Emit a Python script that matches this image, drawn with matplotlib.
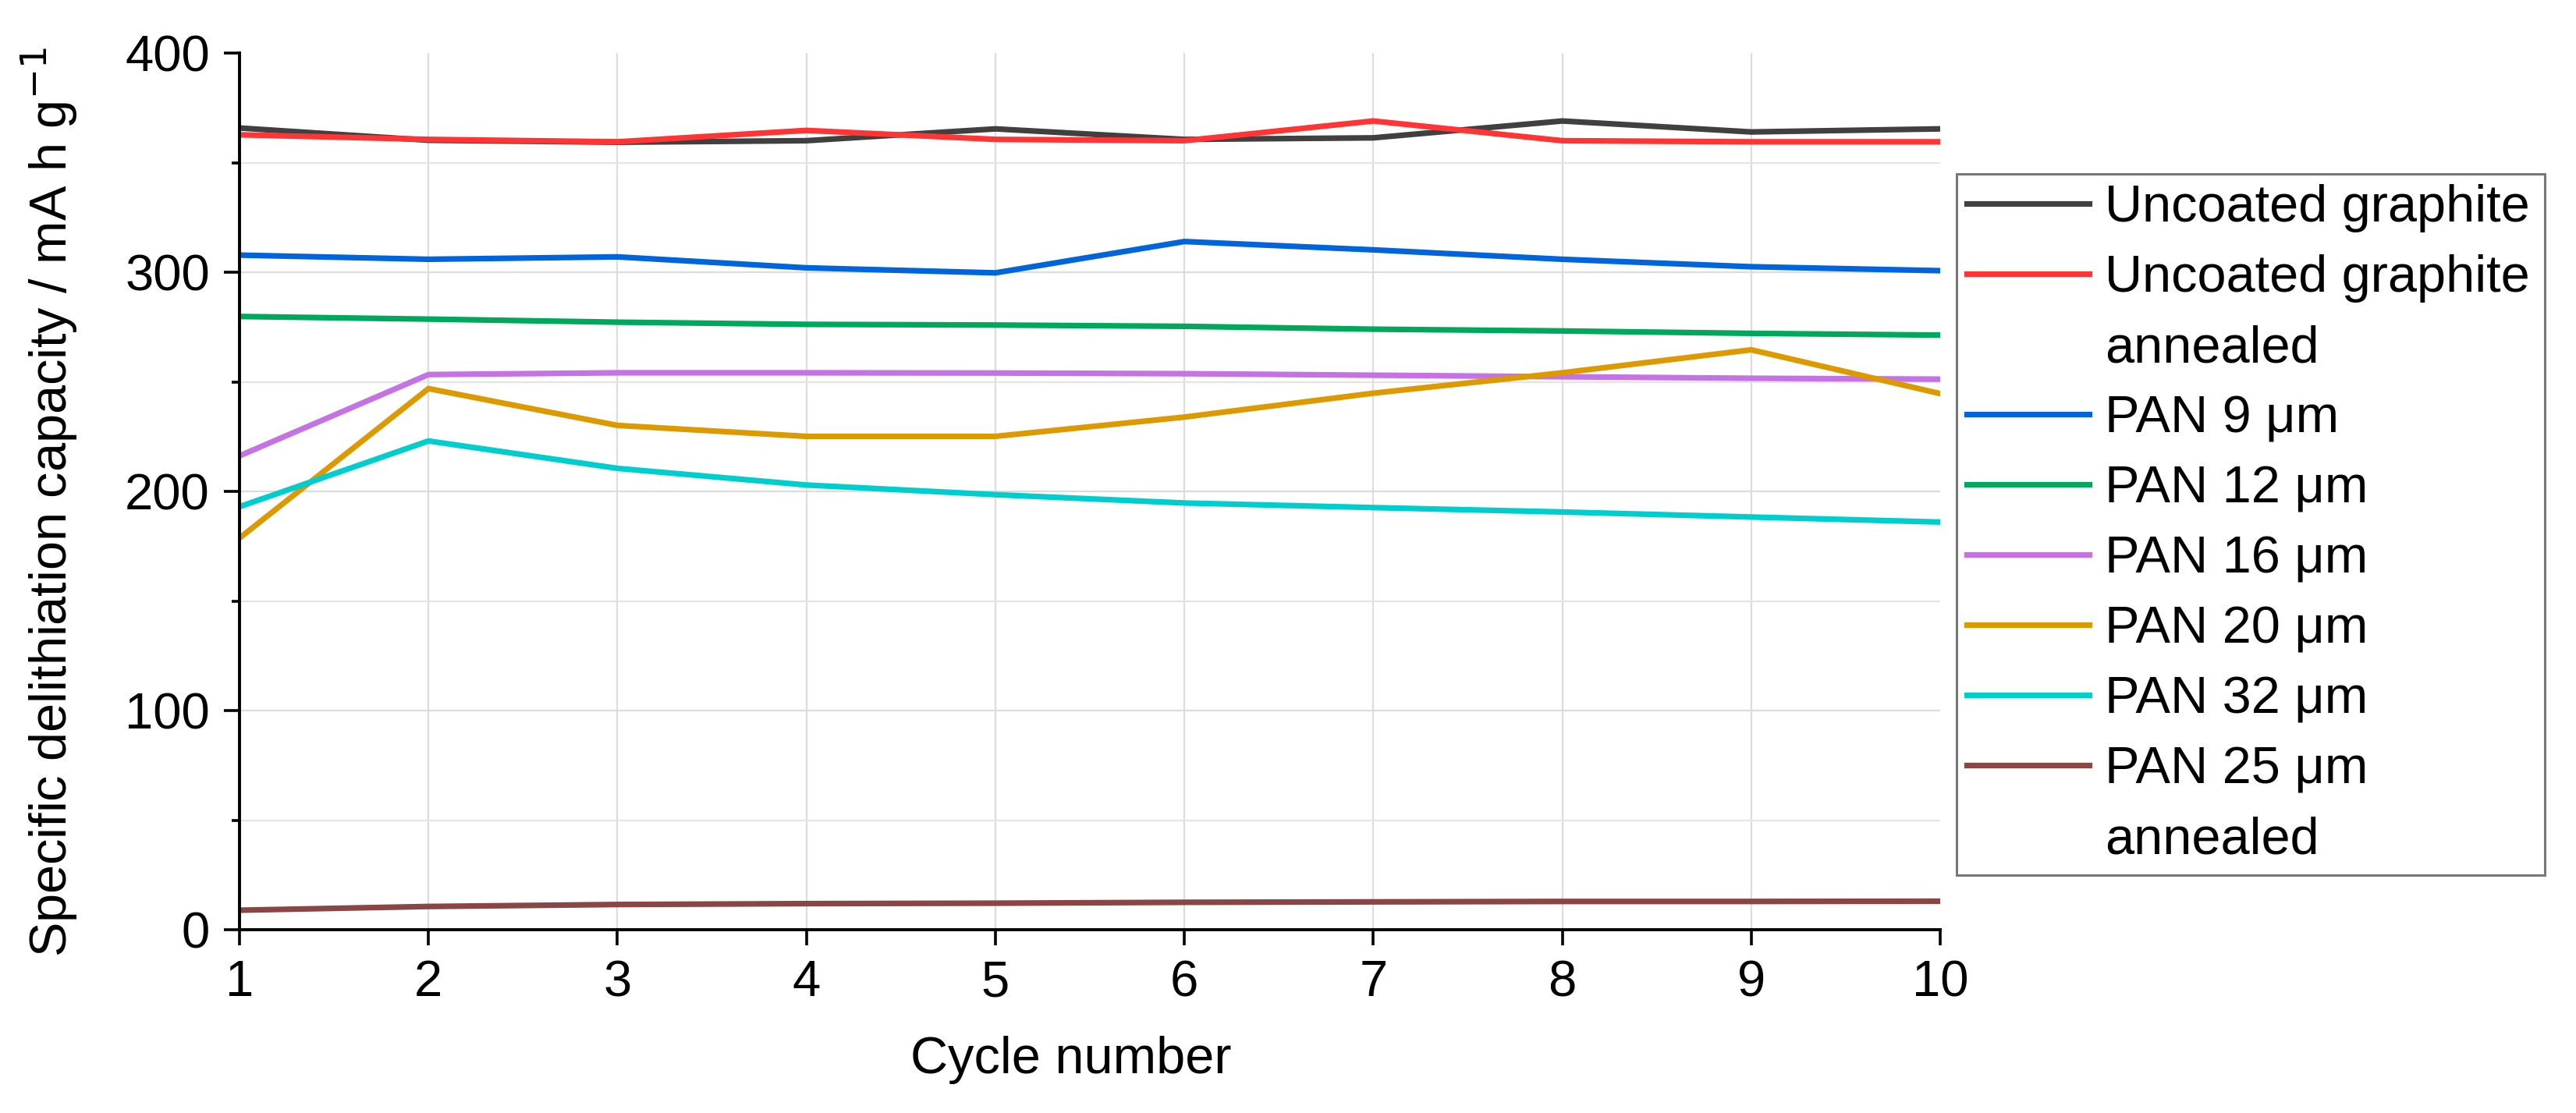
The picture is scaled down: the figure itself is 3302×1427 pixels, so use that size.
import matplotlib
matplotlib.use("Agg")
import matplotlib.pyplot as plt
from matplotlib.lines import Line2D
from matplotlib.ticker import MultipleLocator

plt.rcParams['font.family'] = ['Liberation Sans', 'DejaVu Sans']

cycles = [1, 2, 3, 4, 5, 6, 7, 8, 9, 10]
uncoated = [365.8, 360.2, 359.3, 360.0, 365.4, 360.6, 361.3, 369.0, 364.0, 365.4]
uncoated_annealed = [362.7, 360.6, 359.5, 364.7, 360.6, 360.0, 369.0, 360.0, 359.5, 359.5]
pan9 = [307.8, 305.9, 307.0, 302.0, 299.7, 314.0, 310.2, 305.9, 302.5, 300.7]
pan12 = [279.8, 278.6, 277.2, 276.2, 275.9, 275.3, 274.0, 273.2, 272.1, 271.3]
pan16 = [216.2, 253.3, 254.1, 254.1, 254.0, 253.7, 253.0, 252.3, 251.6, 251.2]
pan20 = [178.7, 246.9, 230.1, 225.1, 225.1, 233.9, 244.8, 254.1, 264.6, 244.6]
pan32 = [193.0, 223.0, 210.5, 202.9, 198.5, 194.7, 192.6, 190.6, 188.3, 186.0]
pan25_annealed = [8.9, 10.6, 11.5, 11.9, 12.1, 12.5, 12.7, 12.9, 12.9, 13.0]

series = [
    ("Uncoated graphite", uncoated, "#404040", None),
    ("Uncoated graphite", uncoated_annealed, "#ff3535", "annealed"),
    ("PAN 9 \u03bcm", pan9, "#0064dc", None),
    ("PAN 12 \u03bcm", pan12, "#00a85c", None),
    ("PAN 16 \u03bcm", pan16, "#c472e4", None),
    ("PAN 20 \u03bcm", pan20, "#dd9a00", None),
    ("PAN 32 \u03bcm", pan32, "#00cece", None),
    ("PAN 25 \u03bcm", pan25_annealed, "#8a4545", "annealed"),
]

W, H, DPI = 3302, 1427, 200
fig = plt.figure(figsize=(W / DPI, H / DPI), dpi=DPI)
fig.patch.set_facecolor("white")
ax = fig.add_axes([307 / W, 1 - 1192 / H, (2487 - 307) / W, (1192 - 68) / H])

handles, labels = [], []
for name, vals, col, extra in series:
    ln, = ax.plot(cycles, vals, color=col, lw=2.6, solid_joinstyle="miter", clip_on=True)
    handles.append(ln)
    labels.append(name)
    if extra:
        handles.append(Line2D([], [], color="none"))
        labels.append(extra)

ax.set_xlim(1, 10)
ax.set_ylim(0, 400)
ax.xaxis.set_major_locator(MultipleLocator(1))
ax.yaxis.set_major_locator(MultipleLocator(100))
ax.yaxis.set_minor_locator(MultipleLocator(50))

for s in ("top", "right"):
    ax.spines[s].set_visible(False)
for s in ("left", "bottom"):
    ax.spines[s].set_linewidth(1.4)
    ax.spines[s].set_color("black")

ax.tick_params(axis="both", which="major", direction="out", length=7.2, width=1.3,
               labelsize=23.5, pad=6.5, colors="black")
ax.tick_params(axis="y", which="minor", direction="out", length=3.6, width=1.3)
ax.tick_params(axis="x", which="minor", bottom=False)

ax.grid(True, which="major", axis="both", color="#dcdcdc", lw=0.8)
ax.grid(True, which="minor", axis="y", color="#e4e4e4", lw=0.8)
ax.set_axisbelow(True)

fig.canvas.draw()
for t in ax.yaxis.get_major_ticks():
    if abs(t.get_loc() - 400) < 1e-6:
        t.gridline.set_visible(False)
for t in ax.xaxis.get_major_ticks():
    if abs(t.get_loc() - 10) < 1e-6 or abs(t.get_loc() - 1) < 1e-6:
        t.gridline.set_visible(False)

ax.set_xlabel("Cycle number", fontsize=24)
ax.set_ylabel("Specific delithiation capacity / mA h g$^{\u22121}$", fontsize=24)
ax.xaxis.set_label_coords(0.489, -0.121)
ax.yaxis.set_label_coords(-0.094, 0.488)

leg_x0 = 2508 / W
leg_top = 1 - 223 / H
leg_w = (3262 - 2508) / W
leg = fig.legend(handles, labels, loc="upper left",
                 bbox_to_anchor=(leg_x0, leg_top - 0.7, leg_w, 0.7),
                 mode="expand", borderaxespad=0, fontsize=24,
                 frameon=True, fancybox=False, edgecolor="#555555",
                 handlelength=2.35, handletextpad=0.3, borderpad=0.2,
                 labelspacing=0.42)
leg.get_frame().set_linewidth(1.1)
for l in leg.get_lines():
    l.set_linewidth(2.6)

fig.savefig("out.png", dpi=DPI, facecolor="white")
